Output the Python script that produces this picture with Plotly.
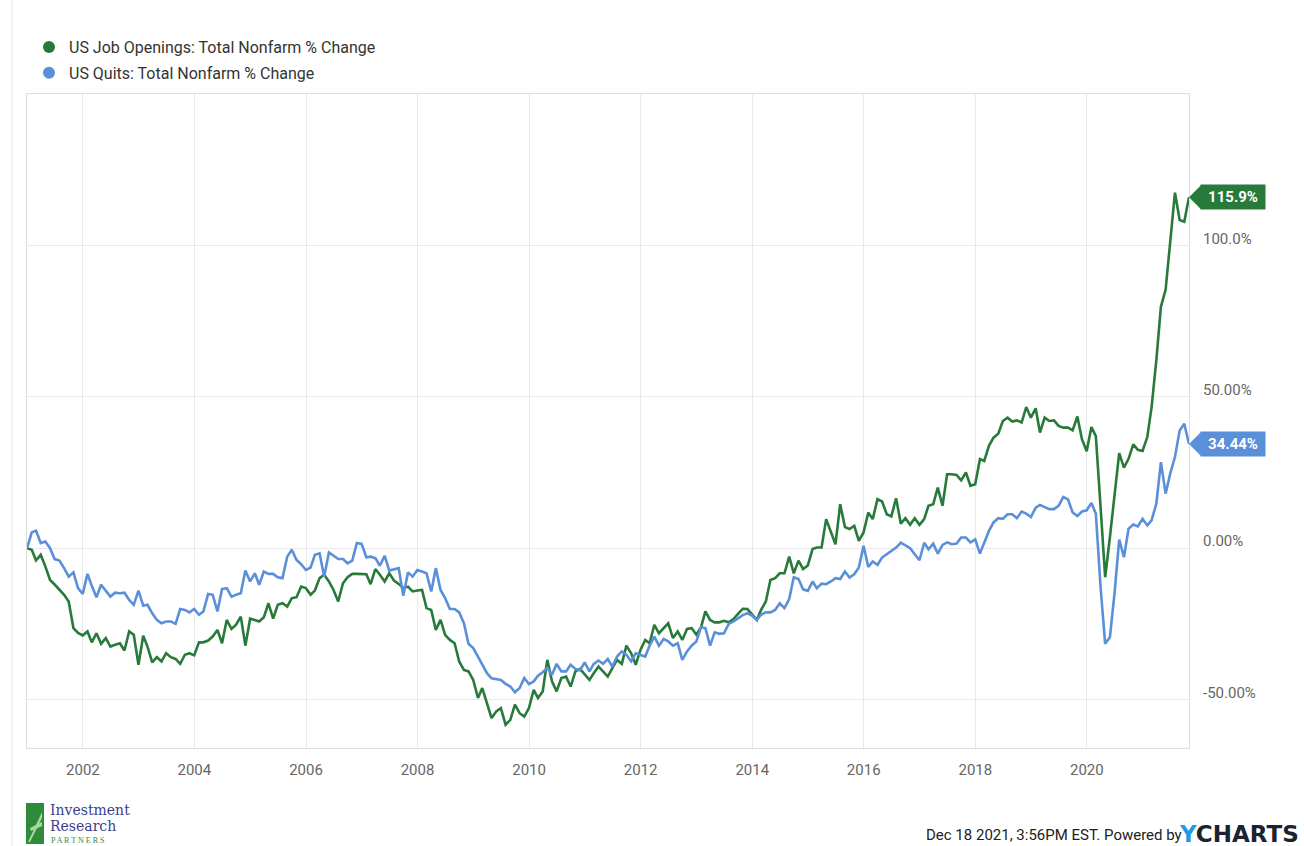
import pandas as pd
import plotly.graph_objects as go

# ---------------- data (month-end, % change since Dec 2000) ----------------
job_openings = [
    0,
    -0.5, -4, -2.2, -6, -10.5, -12, -13.8, -15.4, -17.6, -26.4, -28, -28.8,          # 2001
    -27.5, -31.1, -28.1, -31.6, -29.7, -32.5, -31.9, -31.4, -33.8, -27.5, -28.6, -38.5,  # 2002
    -28.9, -32.5, -37.7, -36, -37.4, -34.7, -36, -36.6, -38.2, -35.2, -34.7, -35.4,     # 2003
    -31.1, -31.1, -30.5, -29.2, -27, -31.4, -23.7, -26.7, -25.3, -22.6, -32.2, -23.3,   # 2004
    -23.7, -24.2, -22.8, -18.2, -23.3, -18.7, -18.2, -19.3, -16.5, -16.2, -12.7, -13.2, # 2005
    -15.4, -14, -9.9, -8.8, -11, -13.8, -17.6, -11.6, -9.6, -8.5, -8.5, -8.5,           # 2006
    -8.6, -11.9, -6.9, -8.8, -11, -8.3, -10.7, -11.8, -13.2, -12.7, -14.3, -14,         # 2007
    -13.8, -19.8, -20.4, -27, -23.7, -28.6, -30.3, -31.4, -37.4, -40.2, -40.7, -43.5,   # 2008
    -49.5, -46.2, -51.2, -56.1, -53.9, -52.8, -58.3, -56.7, -51.7, -54.5, -55.6, -52.8, # 2009
    -46.8, -49.5, -47.3, -36.9, -44, -47.3, -42.9, -42.4, -45.7, -40.7, -39.9, -41.8,   # 2010
    -43.5, -41.3, -39.1, -40.7, -42.4, -39.6, -36.9, -38.2, -32.2, -34.7, -38.5, -33.6, # 2011
    -30.3, -31.4, -25.3, -28.1, -26.4, -24.8, -29.7, -27.5, -30.3, -26.7, -26.4, -28.6, # 2012
    -26.1, -20.9, -23.7, -24.5, -24.5, -24, -24.5, -23.4, -21.7, -20, -20.1, -22,       # 2013
    -23.7, -20.4, -17.6, -10.5, -9.9, -8.3, -8.3, -2.8, -8.3, -4.1, -6.9, -5.7,         # 2014
    -0.3, 0.2, 0.2, 9.6, 5.7, 1.3, 14.5, 7, 6.3, 7.4, 2.4, 5.2,                        # 2015
    11.8, 9.6, 16.2, 15.4, 11.2, 10.5, 16.5, 8.1, 9.9, 7.7, 9.9, 7.7,                   # 2016
    9.6, 14, 14.5, 20, 14, 24.4, 24.4, 24.2, 22.4, 25, 20.6, 21.1,                      # 2017
    29.4, 28.8, 33.8, 36.5, 37.8, 42, 43.1, 41.8, 42.2, 41.5, 46.6, 43.1,               # 2018
    46.2, 38.2, 43.1, 42, 42.2, 40.4, 39.8, 39.8, 38.9, 43.5, 36, 32,                   # 2019
    40, 37, 13.6, -9.6, 3.6, 18, 31.4, 26.6, 29.5, 34.3, 32.5, 32.1,                    # 2020
    36.7, 46.6, 62, 79.7, 85.4, 101.2, 117.4, 108.4, 107.8, 115.9,                      # 2021
]

quits = [
    0,
    5.2, 5.8, 1.7, 2.2, 0, -3.6, -4.1, -6.6, -9.4, -8, -13.2, -15.1,                    # 2001
    -8.5, -12.4, -16.2, -12.1, -14, -16, -14.7, -14.9, -14.7, -17.1, -18.7, -14,        # 2002
    -19, -18.7, -21.5, -23.7, -24.8, -24.2, -24.2, -25, -20.1, -20.4, -21.2, -20.1,     # 2003
    -22, -20.9, -15.1, -15.4, -20.9, -13.5, -13.2, -16, -15.4, -14.9, -7.4, -11,        # 2004
    -8.3, -12.1, -7.7, -8.5, -8.5, -9.6, -9.9, -2.8, -0.5, -3.9, -5.3, -7.2,            # 2005
    -6.4, -2.2, -1.7, -9.4, -1.4, -2.5, -3.6, -3.6, -5, -4.1, 1.7, 1.4,                 # 2006
    -3, -2.8, -3.3, -5.8, -2.5, -7.4, -6.9, -6.6, -15.7, -8, -9.4, -7.2,                # 2007
    -7.7, -8.3, -14.3, -6.6, -13.8, -16.5, -20.1, -20.1, -21.2, -24.8, -31.6, -33,      # 2008
    -35.8, -38.5, -41.3, -43, -43.2, -43.5, -44.8, -45.7, -47.6, -46.2, -42.9, -44.9,   # 2009
    -44, -42.1, -41, -39.6, -41.8, -38.2, -40.7, -40.7, -38.5, -39.9, -40.4, -37.7,     # 2010
    -40.7, -38.2, -37.1, -38.2, -36.6, -39.1, -35.8, -34.1, -35.2, -37.4, -34.7, -35.2, # 2011
    -35.8, -32.2, -29.2, -32.2, -30, -30.8, -32.2, -31.4, -36.9, -34.1, -32.2, -30.8,   # 2012
    -26.1, -26.4, -32.2, -27.8, -28.3, -28.1, -25, -24.2, -23.1, -22.1, -21.5, -22.3,   # 2013
    -23.7, -22, -21.2, -21.2, -20.4, -18.2, -19.8, -16.8, -9.6, -10.2, -13.6, -14.1,    # 2014
    -11, -13.2, -11.7, -11.9, -11, -9.9, -10.2, -7.7, -9.7, -8.6, -6.4, 0.8,            # 2015
    -6.2, -4.4, -5.5, -3.1, -2, -0.9, 0.2, 1.8, 0.9, 0, -2, -4,                         # 2016
    1.8, -0.4, 1.5, -1.8, 1.1, 1.9, 1.3, 1.5, 3.5, 3.5, 1.9, 2.9,                       # 2017
    -1.8, 1.8, 5.7, 8.5, 9.9, 9.7, 11.2, 11.2, 9.9, 12.1, 11.4, 10.3,                   # 2018
    13.4, 14.3, 13.6, 12.9, 12.9, 14, 16.9, 16.1, 11.8, 10.6, 12.1, 12.5,               # 2019
    14.9, 11.4, -12.9, -31.6, -29.4, -15.1, 2.8, -3, 6.4, 7.8, 7.2, 9.7,                # 2020
    7.5, 9.2, 14.7, 28.4, 18, 24.6, 30.1, 38.9, 41.1, 34.44,                            # 2021
]

series_names = ["US Job Openings: Total Nonfarm % Change", "US Quits: Total Nonfarm % Change"]
last_labels = ["115.9%", "34.44%"]
y_tick_values = [-50, 0, 50, 100]
y_tick_labels = ["-50.00%", "0.00%", "50.00%", "100.0%"]
x_tick_years = list(range(2002, 2022, 2))

dates = pd.date_range("2000-12-31", periods=len(job_openings), freq="ME")

GREEN = "#287a3a"
BLUE = "#5a8fda"

W, H = 1304, 846
L, R, T, B = 27, 115, 94, 98
PW, PH = W - L - R, H - T - B


def px(x):
    return (x - L) / PW


def py(y):
    return (H - B - y) / PH


fig = go.Figure()
for vals, name, col, grp in [(job_openings, series_names[0], GREEN, "g1"), (quits, series_names[1], BLUE, "g2")]:
    fig.add_trace(go.Scatter(x=dates, y=vals, mode="lines", name=name, legendgroup=grp,
                             line=dict(color=col, width=2.6), showlegend=False,
                             hoverinfo="x+y"))
# legend entries shown as dots
for name, col, grp in [(series_names[0], GREEN, "g1"), (series_names[1], BLUE, "g2")]:
    fig.add_trace(go.Scatter(x=[None], y=[None], mode="markers", name=name, legendgroup=grp,
                             marker=dict(color=col, size=9), showlegend=True))

annotations = []
shapes = []
# last-value flags
for vals, lab, col in [(job_openings, last_labels[0], GREEN), (quits, last_labels[1], BLUE)]:
    v = vals[-1]
    shapes.append(dict(type="path", xref="paper", yref="y", xsizemode="pixel", ysizemode="pixel",
                       xanchor=1, yanchor=v, path="M0,0 L12,12 L12,-12 Z",
                       fillcolor=col, line=dict(width=0)))
    annotations.append(dict(x=1, y=v, xref="paper", yref="y", xanchor="left", yanchor="middle",
                            xshift=11, text="<b>" + lab + "</b>", showarrow=False,
                            bgcolor=col, font=dict(color="white", size=15, family="Roboto"),
                            width=60, height=20, borderpad=2, align="center"))

# logo (Investment Research Partners)
shapes.append(dict(type="rect", xref="paper", yref="paper", x0=px(26), x1=px(44), y0=py(844), y1=py(803),
                   fillcolor="#2e8b3a", line=dict(width=0)))
shapes.append(dict(type="path", xref="paper", yref="paper",
                   path=f"M{px(28)},{py(842)} L{px(42)},{py(812)} L{px(42)},{py(818)} L{px(30)},{py(842)} Z",
                   fillcolor="#a8d8a0", line=dict(width=0)))
shapes.append(dict(type="path", xref="paper", yref="paper",
                   path=f"M{px(30)},{py(828)} L{px(42)},{py(822)} L{px(42)},{py(826)} L{px(31)},{py(831)} Z",
                   fillcolor="#a8d8a0", line=dict(width=0)))
annotations.append(dict(x=px(48), y=py(810), xref="paper", yref="paper", xanchor="left", yanchor="middle",
                        text="Investment", showarrow=False,
                        font=dict(family="DejaVu Serif", size=14, color="#3c3f8a")))
annotations.append(dict(x=px(48), y=py(826), xref="paper", yref="paper", xanchor="left", yanchor="middle",
                        text="Research", showarrow=False,
                        font=dict(family="DejaVu Serif", size=14, color="#3c3f8a")))
annotations.append(dict(x=px(49), y=py(840), xref="paper", yref="paper", xanchor="left", yanchor="middle",
                        text="P A R T N E R S", showarrow=False,
                        font=dict(family="Liberation Serif", size=8, color="#2e8b3a")))
# footer
annotations.append(dict(x=px(1184), y=py(835), xref="paper", yref="paper", xanchor="right", yanchor="middle",
                        text="Dec 18 2021, 3:56PM EST. Powered by", showarrow=False,
                        font=dict(family="Roboto", size=15, color="#222222")))
annotations.append(dict(x=px(1301), y=py(834), xref="paper", yref="paper", xanchor="right", yanchor="middle",
                        text="<b><span style='color:#1e9be8'>Y</span>CHARTS</b>", showarrow=False,
                        font=dict(family="DejaVu Sans", size=23, color="#1b2230")))
# outer container border
shapes.append(dict(type="line", xref="paper", yref="paper", x0=px(12), x1=px(12), y0=py(0), y1=py(H),
                   line=dict(color="#e4e4e4", width=1)))

fig.update_layout(
    width=W, height=H,
    margin=dict(l=L, r=R, t=T, b=B),
    paper_bgcolor="white", plot_bgcolor="white",
    font=dict(family="Roboto", color="#666666"),
    showlegend=True,
    legend=dict(x=px(29), y=py(30), xanchor="left", yanchor="top", bgcolor="rgba(0,0,0,0)",
                font=dict(family="Roboto", size=16, color="#333333"), tracegroupgap=2,
                itemsizing="constant"),
    annotations=annotations, shapes=shapes,
    hovermode="x unified",
)
fig.update_xaxes(range=[dates[0], dates[-1]], showgrid=True, gridcolor="#e9e9e9", gridwidth=1,
                 tickvals=[pd.Timestamp(f"{y}-01-01") for y in x_tick_years],
                 ticktext=[str(y) for y in x_tick_years],
                 showline=True, linecolor="#dddddd", mirror=True, ticks="",
                 tickfont=dict(size=15, color="#666666"), ticklabelstandoff=8)
fig.update_yaxes(range=[-66, 150], side="right", showgrid=True, gridcolor="#e9e9e9", zeroline=False,
                 tickvals=y_tick_values, ticktext=y_tick_labels,
                 showline=True, linecolor="#dddddd", mirror=True, ticks="",
                 tickfont=dict(size=15, color="#666666"), ticklabelstandoff=10, ticklabelshift=-7)

fig.write_html("out.html", post_script="document.body.style.margin='0';",
               config={"displayModeBar": False})
